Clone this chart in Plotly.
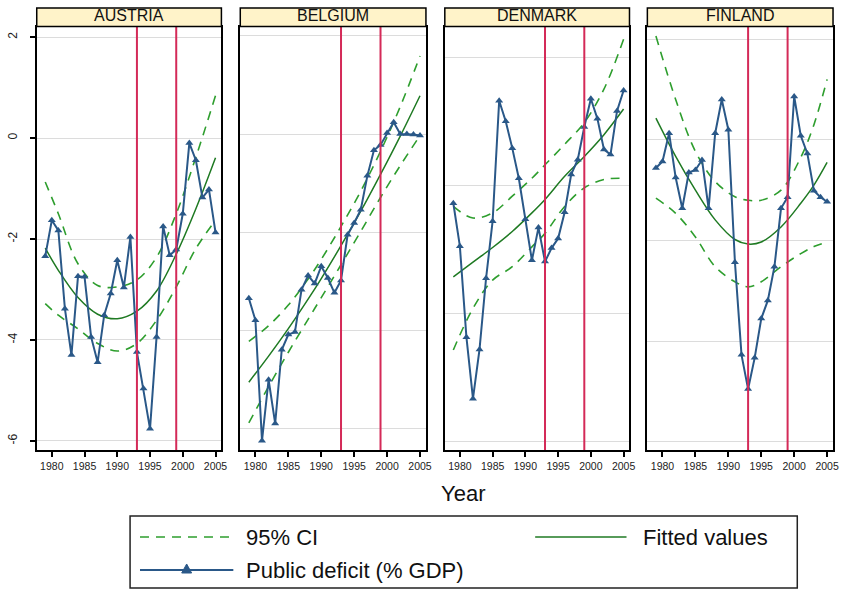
import plotly.graph_objects as go

# ---------------- data ----------------
countries = ["AUSTRIA", "BELGIUM", "DENMARK", "FINLAND"]
years = list(range(1979, 2006))

aut_deficit = [-2.34, -1.63, -1.83, -3.38, -4.30, -2.74, -2.75, -3.94, -4.44, -3.51,
               -3.08, -2.42, -2.96, -1.96, -4.24, -4.96, -5.76, -3.94, -1.75, -2.32,
               -2.21, -1.50, -0.10, -0.44, -1.18, -1.02, -1.87]
bel_deficit = [-3.34, -3.79, -6.24, -5.00, -5.89, -4.39, -4.08, -4.03, -3.17, -2.88,
               -3.04, -2.69, -2.93, -3.23, -2.98, -2.05, -1.81, -1.54, -0.85, -0.33,
               -0.22, 0.02, 0.24, 0.00, 0.00, -0.01, -0.03]
dnk_deficit = [-0.28, -0.95, -2.37, -3.33, -2.56, -1.45, -0.56, 1.32, 1.00, 0.58,
               0.11, -0.53, -1.17, -0.66, -1.19, -0.98, -0.83, -0.42, 0.17, 0.40,
               0.91, 1.35, 1.04, 0.56, 0.48, 1.16, 1.48]
fin_deficit = [-0.56, -0.43, 0.13, -0.75, -1.36, -0.65, -0.60, -0.40, -1.36, 0.13,
               0.80, 0.20, -2.43, -4.27, -4.95, -4.33, -3.55, -3.19, -2.52, -1.36,
               -1.14, 0.86, 0.08, -0.27, -1.01, -1.14, -1.23]

aut_fit_years = [1979, 1981, 1984, 1987, 1990, 1993, 1996, 1999, 2002, 2005]
aut_fit = [-2.18, -2.62, -3.16, -3.49, -3.58, -3.43, -3.03, -2.30, -1.40, -0.39]
aut_upper = [-0.87, -1.50, -2.49, -2.92, -2.95, -2.81, -2.36, -1.50, -0.38, 0.84]
aut_lower = [-3.28, -3.51, -3.78, -4.07, -4.22, -4.07, -3.61, -2.95, -2.19, -1.63]

bel_fit_years = [1979, 1982, 1985, 1988, 1990, 1993, 1996, 1999, 2002, 2005]
bel_fit = [-5.05, -4.52, -3.96, -3.36, -2.94, -2.27, -1.57, -0.82, -0.04, 0.78]
bel_upper = [-4.22, -3.90, -3.48, -2.95, -2.55, -1.88, -1.16, -0.35, 0.56, 1.59]
bel_lower = [-5.88, -5.14, -4.44, -3.77, -3.33, -2.66, -1.98, -1.29, -0.64, -0.03]

dnk_fit_years = [1979, 1982, 1985, 1988, 1991, 1993, 1996, 1999, 2002, 2005]
dnk_fit = [-1.43, -1.20, -0.97, -0.72, -0.43, -0.22, 0.14, 0.45, 0.79, 1.19]
dnk_upper = [-0.33, -0.51, -0.43, -0.17, 0.11, 0.32, 0.64, 0.98, 1.50, 2.28]
dnk_lower = [-2.57, -1.92, -1.48, -1.27, -0.96, -0.75, -0.33, -0.04, 0.09, 0.11]

fin_fit_years = [1979, 1982, 1985, 1988, 1991, 1993, 1995, 1998, 2001, 2003, 2005]
fin_fit = [0.43, -0.33, -1.00, -1.59, -1.98, -2.07, -2.03, -1.73, -1.26, -0.90, -0.45]
fin_upper = [2.06, 0.80, -0.23, -0.83, -1.13, -1.20, -1.20, -1.00, -0.35, 0.30, 1.20]
fin_lower = [-1.16, -1.46, -1.93, -2.52, -2.82, -2.92, -2.82, -2.52, -2.26, -2.12, -2.03]

event_years = [1993, 1999]
x_ticks = [1980, 1985, 1990, 1995, 2000, 2005]
y_ticks = [-6, -4, -2, 0, 2]
y_tick_text = ["-6", "-4", "-2", "0", "2"]

# ---------------- styling / layout ----------------
W, H = 843, 590
def fx(p):
    return p / W
def fy(p):
    return 1 - p / H

BLUE = "#2a5888"
FIT = "#1f7a23"
CI = "#2e9e2e"
RED = "#d42a58"
FONT = "Liberation Sans"
DASH = "9px,7px"

deficits = [aut_deficit, bel_deficit, dnk_deficit, fin_deficit]
fits = [(aut_fit_years, aut_fit, aut_upper, aut_lower),
        (bel_fit_years, bel_fit, bel_upper, bel_lower),
        (dnk_fit_years, dnk_fit, dnk_upper, dnk_lower),
        (fin_fit_years, fin_fit, fin_upper, fin_lower)]
lefts = [37, 242, 448, 652]
rights = [223, 429, 634, 839]
y_ranges = [[-6.18, 2.2], [-6.43, 2.18], [-4.13, 2.47], [-6.16, 2.24]]
PLOT_TOP, PLOT_BOT = 27, 450

fig = go.Figure()
layout = {}
shapes = []
annotations = []

for i in range(4):
    n = "" if i == 0 else str(i + 1)
    xa, ya = "x" + n, "y" + n
    fy_, fv, fu, fl = fits[i]
    fig.add_trace(go.Scatter(x=fy_, y=fu, mode="lines", xaxis=xa, yaxis=ya,
                             line=dict(color=CI, width=1.6, dash=DASH, shape="spline"),
                             showlegend=False, hoverinfo="skip"))
    fig.add_trace(go.Scatter(x=fy_, y=fl, mode="lines", xaxis=xa, yaxis=ya,
                             line=dict(color=CI, width=1.6, dash=DASH, shape="spline"),
                             showlegend=False, hoverinfo="skip"))
    fig.add_trace(go.Scatter(x=fy_, y=fv, mode="lines", xaxis=xa, yaxis=ya,
                             line=dict(color=FIT, width=1.5, shape="spline"),
                             showlegend=False, hoverinfo="skip"))
    fig.add_trace(go.Scatter(x=years, y=deficits[i], mode="lines+markers", xaxis=xa, yaxis=ya,
                             line=dict(color=BLUE, width=2),
                             marker=dict(symbol="triangle-up", size=7, color=BLUE),
                             showlegend=False))

    layout["xaxis" + n] = dict(
        domain=[fx(lefts[i]), fx(rights[i])], anchor=ya, range=[1977.7, 2005.9],
        tickvals=x_ticks, ticks="outside", ticklen=5, tickwidth=1.5, tickcolor="black",
        tickfont=dict(family=FONT, size=10.5, color="#222"),
        showline=True, linecolor="black", linewidth=2, mirror=True,
        showgrid=False, zeroline=False, fixedrange=True)
    layout["yaxis" + n] = dict(
        domain=[fy(PLOT_BOT), fy(PLOT_TOP)], anchor=xa, range=y_ranges[i],
        tickvals=y_ticks, ticktext=y_tick_text,
        showticklabels=(i == 0), ticks="outside" if i == 0 else "",
        ticklen=5, tickwidth=1.5, tickcolor="black", tickangle=-90,
        ticklabelstandoff=8,
        tickfont=dict(family=FONT, size=12, color="#222"),
        showline=True, linecolor="black", linewidth=2, mirror=True,
        showgrid=True, gridcolor="#dcdcdc", gridwidth=1, zeroline=False, fixedrange=True)

    for ey in event_years:
        shapes.append(dict(type="line", xref=xa, yref=ya + " domain", x0=ey, x1=ey, y0=0, y1=1,
                           line=dict(color=RED, width=2), layer="above"))
    # panel header
    shapes.append(dict(type="rect", xref="paper", yref="paper",
                       x0=fx(lefts[i]), x1=fx(rights[i]), y0=fy(26.5), y1=fy(8),
                       fillcolor="#fff3c9", line=dict(color="black", width=1.5)))
    annotations.append(dict(xref="paper", yref="paper", x=fx((lefts[i] + rights[i]) / 2), y=fy(15.5),
                            text=countries[i], showarrow=False, xanchor="center", yanchor="middle",
                            font=dict(family=FONT, size=16, color="#111")))

# axis title
annotations.append(dict(xref="paper", yref="paper", x=fx(466), y=fy(493), text="Year",
                        showarrow=False, xanchor="center", yanchor="middle",
                        font=dict(family=FONT, size=22, color="#111")))

# legend box (drawn manually)
shapes.append(dict(type="rect", xref="paper", yref="paper", x0=fx(131), x1=fx(803),
                   y0=fy(588), y1=fy(516), line=dict(color="#222", width=1.5), fillcolor="white"))
shapes.append(dict(type="line", xref="paper", yref="paper", x0=fx(141), x1=fx(235),
                   y0=fy(537), y1=fy(537), line=dict(color=CI, width=1.6, dash=DASH)))
shapes.append(dict(type="line", xref="paper", yref="paper", x0=fx(539), x1=fx(631),
                   y0=fy(537), y1=fy(537), line=dict(color=FIT, width=1.6)))
shapes.append(dict(type="line", xref="paper", yref="paper", x0=fx(141), x1=fx(235),
                   y0=fy(570), y1=fy(570), line=dict(color=BLUE, width=2)))
tri = "M {:.5f},{:.5f} L {:.5f},{:.5f} L {:.5f},{:.5f} Z".format(
    fx(183), fy(573), fx(193), fy(573), fx(188), fy(564))
shapes.append(dict(type="path", xref="paper", yref="paper", path=tri,
                   fillcolor=BLUE, line=dict(color=BLUE, width=1)))
legend_font = dict(family=FONT, size=22, color="#111")
annotations.append(dict(xref="paper", yref="paper", x=fx(246), y=fy(537), text="95% CI",
                        showarrow=False, xanchor="left", yanchor="middle", font=legend_font))
annotations.append(dict(xref="paper", yref="paper", x=fx(646), y=fy(537), text="Fitted values",
                        showarrow=False, xanchor="left", yanchor="middle", font=legend_font))
annotations.append(dict(xref="paper", yref="paper", x=fx(246), y=fy(570), text="Public deficit (% GDP)",
                        showarrow=False, xanchor="left", yanchor="middle", font=legend_font))

fig.update_layout(**layout)
fig.update_layout(width=W, height=H, margin=dict(l=0, r=0, t=0, b=0),
                  paper_bgcolor="white", plot_bgcolor="white",
                  shapes=shapes, annotations=annotations, showlegend=False,
                  font=dict(family=FONT))
fig.write_html("out.html")
